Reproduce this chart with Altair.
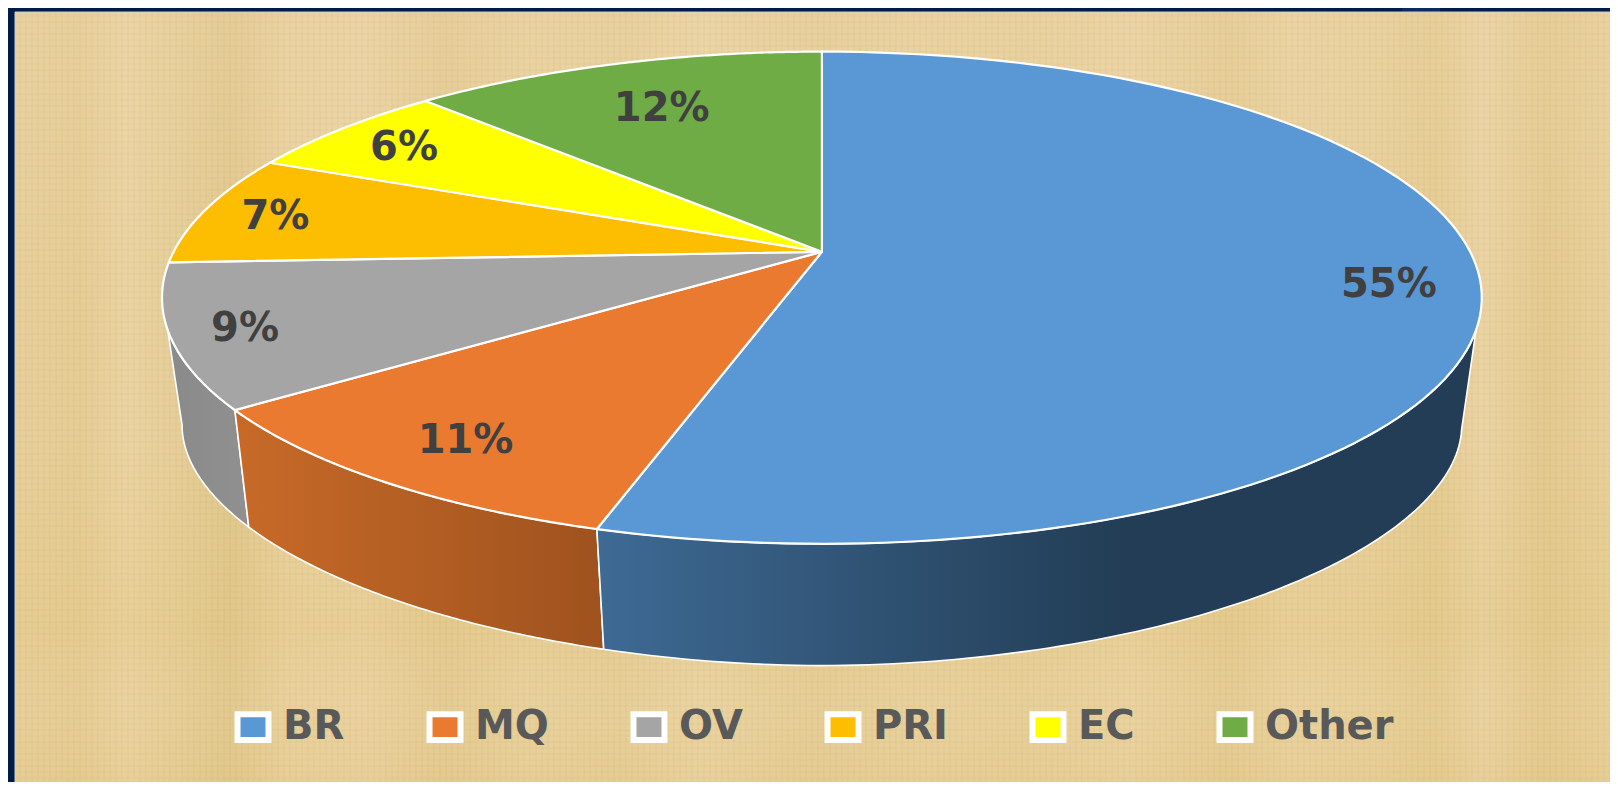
import math
import numpy as np
import pandas as pd
import altair as alt

# ---- chart values
categories = ["BR", "MQ", "OV", "PRI", "EC", "Other"]
shares = [54.6, 10.3, 9.4, 7.3, 6.2, 12.2]
labels = ["55%", "11%", "9%", "7%", "6%", "12%"]

# ---- styles
colors = ["#5a97d5", "#ea7a2f", "#a5a5a5", "#fdbd00", "#ffff00", "#6fac46"]
wall_stops = {
    "BR": [(0, "#3e6a94"), (0.6, "#223d55"), (1, "#223d55")],
    "MQ": [(0, "#c76a28"), (1, "#9f521e")],
    "OV": [(0, "#8a8a8a"), (1, "#909090")],
}

# ---- perspective geometry of the drawing (full-size pixels)
X0, X1, Y0, Y1 = 8, 1610, 8, 782
CX, CY, RX, RY = 821.9, 297.7, 659.9, 246.1
APEX_Y = 251.8
LCY, LRX, LRY = 426.2, 639.8, 239.4
LOW_EXP = 1.92
K = 0.828
SIL_R_TOP, SIL_L_TOP = 97.6, 262.4
SIL_R_LOW, SIL_L_LOW = 91.0, 269.0
label_frac = [0.86, 0.81, 0.885, 0.887, 0.87, 0.775]
label_dy = 3


def to_t(share_pct):
    th = math.radians(share_pct * 3.6)
    t = 2 * math.atan2(K * math.sin(th / 2), math.cos(th / 2))
    return math.degrees(t) % 360


def top_pt(t):
    r = math.radians(t)
    return CX + RX * math.sin(r), CY - RY * math.cos(r)


def low_pt(t):
    r = math.radians(t + 0.8 * max(0.0, t - 200) / 43)
    u = math.sin(r)
    v = max(0.0, 1 - abs(u) ** LOW_EXP) ** (1 / LOW_EXP)
    return CX + LRX * u, LCY + LRY * v * (-1 if math.cos(r) > 0 else 1)


cum = np.cumsum([0] + shares)
rows, wall_rows, text_rows = [], {}, []
for i, c in enumerate(categories):
    t0 = to_t(cum[i])
    t1 = 360.0 if i == len(categories) - 1 else to_t(cum[i + 1])
    pts = [(CX, APEX_Y)]
    pts += [top_pt(t) for t in np.linspace(t0, t1, 120)]
    for n, (x, y) in enumerate(pts):
        rows.append(dict(slice=c, n=n, x=x, y=y))
    tm = to_t((cum[i] + cum[i + 1]) / 2)
    px, py = top_pt(tm)
    f = label_frac[i]
    text_rows.append(dict(x=CX + f * (px - CX), y=APEX_Y + f * (py - APEX_Y), label=labels[i]))
    a_top, a_low, b_top, b_low = t0, t0, t1, t1
    if c == "BR":
        a_top, a_low = SIL_R_TOP, SIL_R_LOW
    if c == "OV":
        b_top, b_low = SIL_L_TOP, SIL_L_LOW
    if c in wall_stops:
        w = [top_pt(t) for t in np.linspace(a_top, b_top, 100)]
        w += [low_pt(t) for t in np.linspace(b_low, a_low, 100)]
        wall_rows[c] = pd.DataFrame([dict(n=n, x=x, y=y) for n, (x, y) in enumerate(w)])

tops = pd.DataFrame(rows)
texts = pd.DataFrame(text_rows)

x_s = alt.Scale(domain=[X0, X1], nice=False, zero=False)
y_s = alt.Scale(domain=[Y1, Y0], nice=False, zero=False)
X = alt.X("x:Q", scale=x_s, axis=None)
Y = alt.Y("y:Q", scale=y_s, axis=None)


def box(x, x2, y, y2):
    return pd.DataFrame([dict(x=x, x2=x2, y=y, y2=y2)])


# ---- paper background: navy frame, parchment sheet with soft mottling, fine weave
frame = alt.Chart(box(X0, X1, Y0, Y1)).mark_rect(color="#021d45").encode(x=X, x2="x2:Q", y=Y, y2="y2:Q")
notch = alt.Chart(box(1402, 1440, 8, 12)).mark_rect(color="#0a2b5c").encode(x=X, x2="x2:Q", y=Y, y2="y2:Q")

h_stops = [(0.00, "#e7d09c"), (0.04, "#e5cd96"), (0.07, "#ebd4a4"), (0.10, "#e6cf9a"), (0.135, "#e0c88e"),
           (0.17, "#ead2a0"), (0.22, "#ebd3a4"), (0.27, "#e4cb94"), (0.32, "#e9d2a0"), (0.38, "#e6cf9a"),
           (0.43, "#ebd5a6"), (0.50, "#e5ce98"), (0.57, "#e9d2a0"), (0.63, "#e7d09b"), (0.70, "#ebd4a4"),
           (0.76, "#e4cc94"), (0.80, "#ead3a2"), (0.85, "#e8d19d"), (0.89, "#e4cc92"), (0.92, "#ebd4a6"),
           (0.96, "#e3ca90"), (1.00, "#e8d19c")]
v_stops = [(0.00, "rgba(236,214,170,0.35)"), (0.25, "rgba(236,214,170,0.15)"), (0.55, "rgba(226,200,130,0.0)"),
           (0.80, "rgba(226,200,130,0.35)"), (0.90, "rgba(232,208,150,0.2)"), (1.00, "rgba(226,200,130,0.3)")]
sheet = alt.Chart(box(15, X1, 12, Y1)).mark_rect(
    fill=alt.Gradient(gradient="linear", x1=0, y1=0, x2=1, y2=0,
                      stops=[alt.GradientStop(offset=o, color=c) for o, c in h_stops]),
    stroke="#c9cdd6", strokeWidth=1).encode(x=X, x2="x2:Q", y=Y, y2="y2:Q")
sheet_v = alt.Chart(box(16, X1, 13, Y1)).mark_rect(
    fill=alt.Gradient(gradient="linear", x1=0, y1=0, x2=0, y2=1,
                      stops=[alt.GradientStop(offset=o, color=c) for o, c in v_stops])).encode(
    x=X, x2="x2:Q", y=Y, y2="y2:Q")
weave_v = alt.Chart(pd.DataFrame(dict(x=np.arange(20, X1, 6)))).mark_rule(
    color="#a9853f", opacity=0.05, strokeWidth=2).encode(x=X, y=alt.value(5), y2=alt.value(Y1 - Y0))
weave_h = alt.Chart(pd.DataFrame(dict(y=np.arange(16, Y1, 6)))).mark_rule(
    color="#a9853f", opacity=0.04, strokeWidth=2).encode(y=Y, x=alt.value(8), x2=alt.value(X1 - X0))

# ---- side walls
walls = []
for c in ["OV", "MQ", "BR"]:
    grad = alt.Gradient(gradient="linear", x1=0, y1=0, x2=1, y2=0,
                        stops=[alt.GradientStop(offset=o, color=col) for o, col in wall_stops[c]])
    walls.append(alt.Chart(wall_rows[c]).mark_line(
        interpolate="linear-closed", fill=grad, stroke="white", strokeWidth=1.6, strokeJoin="round"
    ).encode(x=X, y=Y, order="n:Q"))

# ---- top faces, with the real legend
legend = alt.Legend(
    title=None, orient="none", legendX=225, legendY=699, direction="horizontal", columns=6,
    symbolType="M-1.2,-1H1.2V1H-1.2Z", symbolSize=666, symbolStrokeColor="white",
    symbolStrokeWidth=6, symbolOpacity=1, labelFont="DejaVu Sans", labelFontWeight="bold",
    labelFontSize=40, labelColor="#595959", labelLimit=0, columnPadding=72, labelOffset=10,
    symbolOffset=0,
)
top = alt.Chart(tops).mark_line(
    interpolate="linear-closed", stroke="white", strokeWidth=2.2, strokeJoin="round"
).encode(
    x=X, y=Y, order="n:Q", detail="slice:N",
    fill=alt.Fill("slice:N", scale=alt.Scale(domain=categories, range=colors), legend=legend),
)

text = alt.Chart(texts).mark_text(
    font="DejaVu Sans", fontWeight="bold", fontSize=40, color="#404040", align="center", baseline="middle",
    dy=label_dy,
).encode(x=X, y=Y, text="label:N")

chart = alt.layer(frame, notch, sheet, sheet_v, weave_v, weave_h, *walls, top, text).properties(
    width=X1 - X0, height=Y1 - Y0, padding=0, autosize=alt.AutoSizeParams(type="none"),
    background="white",
).configure_view(stroke=None)

chart.save("out.html", embed_options={"renderer": "svg", "actions": False})
